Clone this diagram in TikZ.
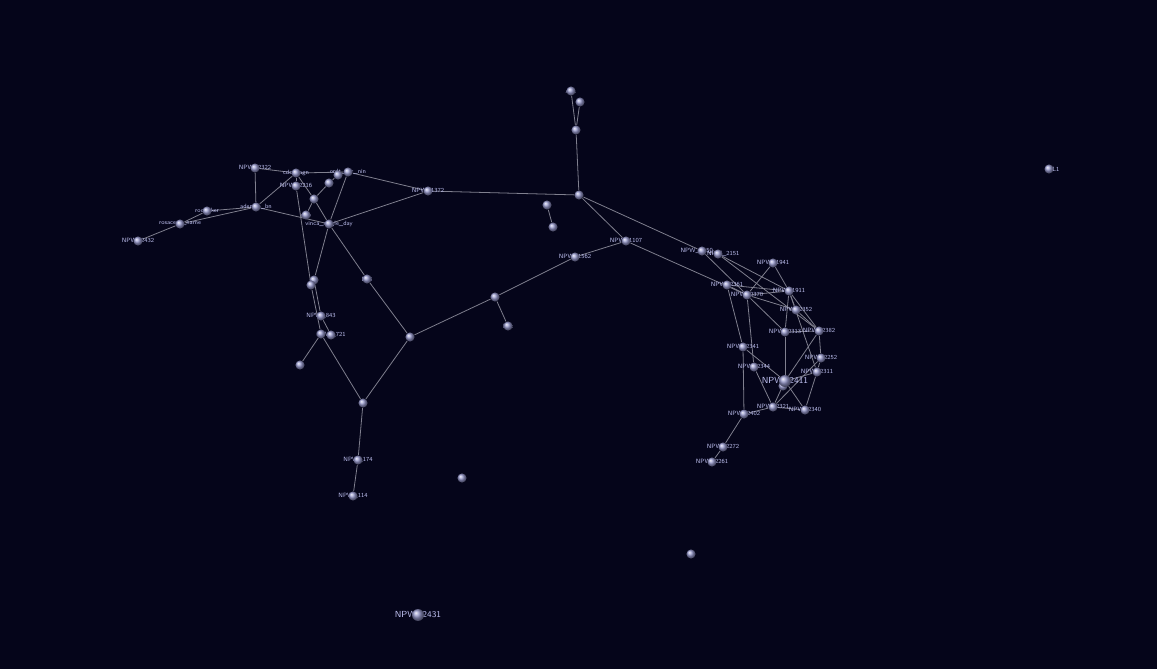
\documentclass[tikz,border=0pt]{standalone}
\usetikzlibrary{backgrounds}
\definecolor{bgnavy}{HTML}{05051A}
\definecolor{edgegray}{HTML}{80808F}
\definecolor{nodeblue}{HTML}{9698CC}
\definecolor{labelblue}{HTML}{BEC0F0}
\pgfdeclarelayer{edges}
\pgfdeclarelayer{labels}
\pgfsetlayers{background,edges,labels,main}

\begin{document}
\begin{tikzpicture}[
    x={(0.02cm,0)}, y={(0,-0.02cm)},
    show background rectangle,
    inner frame sep=0pt,
    background rectangle/.style={fill=bgnavy, draw=none},
    dot/.style={circle, inner sep=0pt, minimum size=5.2pt, shading=ball, ball color=nodeblue},
    bigdot/.style={dot, minimum size=6.8pt},
    lbl/.style={text=labelblue, inner sep=0pt, font=\fontsize{3.5}{4}\selectfont\sffamily},
    biglbl/.style={lbl, font=\fontsize{5}{6}\selectfont\sffamily},
    edge/.style={draw=edgegray, line width=0.45pt}
  ]
  \useasboundingbox (0,0) rectangle (1157,669);

  % Nodes, left part
  \node (n01) [dot] at (138,241) {};
  \node (n02) [dot] at (180,224) {};
  \node (n03) [dot] at (207,211) {};
  \node (n04) [dot] at (256,207) {};
  \node (n05) [dot] at (255,168) {};
  \node (n06) [dot] at (296,173) {};
  \node (n07) [dot] at (296,186) {};
  \node (n08) [dot] at (329,183) {};
  \node (n09) [dot] at (314,199) {};
  \node (n10) [dot] at (306,215) {};
  \node (n11) [dot] at (329,224) {};
  \node (n12) [dot] at (338,175) {};
  \node (n13) [dot] at (348,172) {};
  \node (n14) [dot] at (428,191) {};
  \node (n15) [dot] at (579,195) {};
  \node (n16) [dot] at (576,130) {};
  \node (n17) [dot] at (571,91) {};
  \node (n18) [dot] at (580,102) {};
  \node (n19) [dot] at (547,205) {};
  \node (n20) [dot] at (553,227) {};
  \node (n21) [dot] at (626,241) {};
  \node (n22) [dot] at (575,257) {};
  \node (n23) [dot] at (495,297) {};
  \node (n24) [dot] at (508,326) {};
  \node (n25) [dot] at (410,337) {};
  \node (n26) [dot] at (367,279) {};
  \node (n27) [dot] at (314,280) {};
  \node (n28) [dot] at (311,285) {};
  \node (n29) [dot] at (321,316) {};
  \node (n30) [dot] at (321,334) {};
  \node (n31) [dot] at (331,335) {};
  \node (n32) [dot] at (300,365) {};
  \node (n33) [dot] at (363,403) {};
  \node (n34) [dot] at (358,460) {};
  \node (n35) [dot] at (353,496) {};
  \node (n36) [dot] at (462,478) {};
  \node (n37) [bigdot] at (418,615) {};
  \node (n38) [dot] at (1049,169) {};
  \node (n39) [dot] at (691,554) {};

  % Nodes, right cluster
  \node (r01) [dot] at (702,251) {};
  \node (r02) [dot] at (718,254) {};
  \node (r03) [dot] at (773,263) {};
  \node (r04) [dot] at (727,285) {};
  \node (r05) [dot] at (747,295) {};
  \node (r06) [dot] at (789,291) {};
  \node (r07) [dot] at (796,310) {};
  \node (r08) [dot] at (785,332) {};
  \node (r09) [dot] at (819,331) {};
  \node (r10) [dot] at (743,347) {};
  \node (r11) [dot] at (754,367) {};
  \node (r12) [dot] at (821,358) {};
  \node (r13) [dot] at (817,372) {};
  \node (r14b) [dot] at (783,386) {};
  \node (r14) [bigdot] at (785,381) {};
  \node (r15) [dot] at (773,407) {};
  \node (r16) [dot] at (805,410) {};
  \node (r17) [dot] at (744,414) {};
  \node (r18) [dot] at (723,447) {};
  \node (r19) [dot] at (712,462) {};

  % Labels
  \begin{pgfonlayer}{labels}
  \node [lbl] at (n01) {NPW\_2432};
  \node [lbl] at (n02) {rosaceae\_name};
  \node [lbl] at (n03) {root\_ker};
  \node [lbl] at (n04) {adenine\_bn};
  \node [lbl] at (n05) {NPW\_2322};
  \node [lbl] at (n06) {cdcs\_agn};
  \node [lbl] at (n07) {NPW\_2216};
  \node [lbl] at (n10) {sdw};
  \node [lbl] at (n11) {vinca\_single\_day};
  \node [lbl] at (n13) {ordt\_ker\_nin};
  \node [lbl] at (n14) {NPW\_1372};
  \node [lbl] at (n17) {A31};
  \node [lbl] at (n21) {NPW\_1107};
  \node [lbl] at (n22) {NPW\_1562};
  \node [lbl] at (n24) {F2c};
  \node [lbl] at (n26) {L83};
  \node [lbl] at (n29) {NPW\_843};
  \node [lbl] at (n31) {NPW\_721};
  \node [lbl] at (n33) {E1};
  \node [lbl] at (n34) {NPW\_174};
  \node [lbl] at (n35) {NPW\_114};
  \node [biglbl] at (n37) {NPW\_2431};
  \node [lbl, xshift=4pt] at (n38) {L1};
  \node [lbl] at (n39) {S1};
  \node [lbl, xshift=-3pt] at (r01) {NPW\_2150};
  \node [lbl, xshift=3pt] at (r02) {NPW\_2151};
  \node [lbl] at (r03) {NPW\_1941};
  \node [lbl] at (r04) {NPW\_2361};
  \node [lbl] at (r05) {NPW\_2370};
  \node [lbl] at (r06) {NPW\_1911};
  \node [lbl] at (r07) {NPW\_2352};
  \node [lbl] at (r08) {NPW\_2313};
  \node [lbl] at (r09) {NPW\_2382};
  \node [lbl] at (r10) {NPW\_2341};
  \node [lbl] at (r11) {NPW\_2344};
  \node [lbl] at (r12) {NPW\_2252};
  \node [lbl] at (r13) {NPW\_2311};
  \node [biglbl] at (r14) {NPW\_2411};
  \node [lbl] at (r15) {NPW\_2321};
  \node [lbl] at (r16) {NPW\_2340};
  \node [lbl] at (r17) {NPW\_2402};
  \node [lbl] at (r18) {NPW\_2272};
  \node [lbl] at (r19) {NPW\_2261};
  \end{pgfonlayer}

  % Connections
  \begin{pgfonlayer}{edges}
  \draw [edge] (n01) -- (n02);  \draw [edge] (n02) -- (n03);
  \draw [edge] (n02) -- (n04);  \draw [edge] (n03) -- (n04);
  \draw [edge] (n04) -- (n05);  \draw [edge] (n04) -- (n06);
  \draw [edge] (n04) -- (n11);  \draw [edge] (n05) -- (n06);
  \draw [edge] (n06) -- (n13);  \draw [edge] (n06) -- (n07);
  \draw [edge] (n06) -- (n09);  \draw [edge] (n09) -- (n11);
  \draw [edge] (n09) -- (n08);  \draw [edge] (n08) -- (n12);
  \draw [edge] (n12) -- (n13);  \draw [edge] (n09) -- (n10);
  \draw [edge] (n13) -- (n11);  \draw [edge] (n13) -- (n14);
  \draw [edge] (n11) -- (n14);  \draw [edge] (n11) -- (n26);
  \draw [edge] (n26) -- (n25);  \draw [edge] (n07) -- (n28);
  \draw [edge] (n11) -- (n27);  \draw [edge] (n27) -- (n28);
  \draw [edge] (n28) -- (n30);  \draw [edge] (n27) -- (n29);
  \draw [edge] (n29) -- (n31);  \draw [edge] (n30) -- (n32);
  \draw [edge] (n30) -- (n33);  \draw [edge] (n25) -- (n33);
  \draw [edge] (n33) -- (n34);  \draw [edge] (n34) -- (n35);
  \draw [edge] (n14) -- (n15);  \draw [edge] (n15) -- (n16);
  \draw [edge] (n16) -- (n17);  \draw [edge] (n16) -- (n18);
  \draw [edge] (n15) -- (n21);  \draw [edge] (n15) -- (r01);
  \draw [edge] (n19) -- (n20);  \draw [edge] (n21) -- (n22);
  \draw [edge] (n21) -- (r05);  \draw [edge] (n22) -- (n23);
  \draw [edge] (n23) -- (n24);  \draw [edge] (n23) -- (n25);

  \draw [edge] (r01) -- (r02);  \draw [edge] (r01) -- (r05);
  \draw [edge] (r02) -- (r06);  \draw [edge] (r02) -- (r09);
  \draw [edge] (r03) -- (r05);  \draw [edge] (r03) -- (r06);
  \draw [edge] (r04) -- (r05);  \draw [edge] (r04) -- (r06);
  \draw [edge] (r04) -- (r10);  \draw [edge] (r05) -- (r06);
  \draw [edge] (r05) -- (r07);  \draw [edge] (r05) -- (r08);
  \draw [edge] (r05) -- (r11);  \draw [edge] (r06) -- (r07);
  \draw [edge] (r06) -- (r08);  \draw [edge] (r06) -- (r09);
  \draw [edge] (r06) -- (r13);  \draw [edge] (r07) -- (r09);
  \draw [edge] (r08) -- (r09);  \draw [edge] (r08) -- (r14);
  \draw [edge] (r09) -- (r12);  \draw [edge] (r09) -- (r14);
  \draw [edge] (r12) -- (r13);  \draw [edge] (r12) -- (r15);
  \draw [edge] (r13) -- (r14);  \draw [edge] (r13) -- (r16);
  \draw [edge] (r10) -- (r14);  \draw [edge] (r10) -- (r17);
  \draw [edge] (r11) -- (r15);  \draw [edge] (r14) -- (r15);
  \draw [edge] (r14) -- (r16);  \draw [edge] (r15) -- (r16);
  \draw [edge] (r15) -- (r17);  \draw [edge] (r17) -- (r18);
  \draw [edge] (r18) -- (r19);  \draw [edge] (r14) -- (r14b);
  \end{pgfonlayer}

\end{tikzpicture}
\end{document}
